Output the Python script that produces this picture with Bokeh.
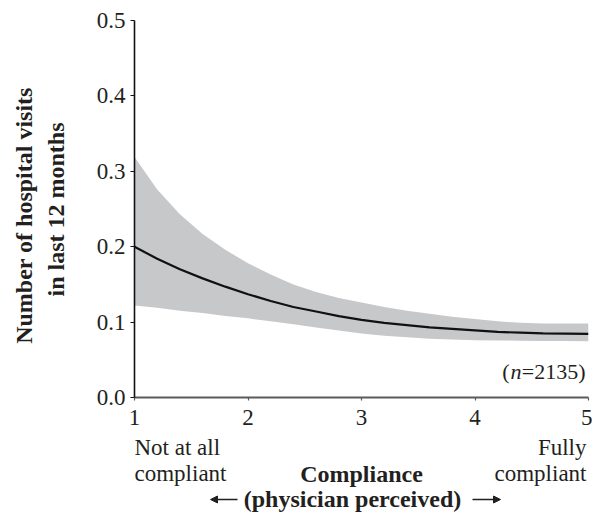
import math
from bokeh.plotting import figure
from bokeh.layouts import row, column
from bokeh.models import Range1d, FixedTicker, PrintfTickFormatter, Label, Arrow, NormalHead
from bokeh.embed import file_html
from bokeh.resources import INLINE

# ---- data ----
compliance = [1.0, 1.2, 1.4, 1.6, 1.8, 2.0, 2.2, 2.4, 2.6, 2.8, 3.0,
              3.2, 3.4, 3.6, 3.8, 4.0, 4.2, 4.4, 4.6, 4.8, 5.0]
visits_mid = [0.200, 0.184, 0.170, 0.158, 0.147, 0.137, 0.128, 0.120, 0.114, 0.108, 0.103,
              0.099, 0.096, 0.093, 0.091, 0.089, 0.087, 0.086, 0.085, 0.0848, 0.0845]
visits_upper = [0.319, 0.276, 0.243, 0.217, 0.196, 0.178, 0.163, 0.150, 0.140, 0.132, 0.126,
                0.120, 0.115, 0.111, 0.107, 0.104, 0.101, 0.099, 0.098, 0.098, 0.098]
visits_lower = [0.122, 0.119, 0.115, 0.112, 0.108, 0.105, 0.101, 0.097, 0.093, 0.089, 0.085,
                0.082, 0.080, 0.078, 0.077, 0.076, 0.0757, 0.0753, 0.075, 0.0748, 0.0747]
x_ticks = [1, 2, 3, 4, 5]
y_ticks = [0.0, 0.1, 0.2, 0.3, 0.4, 0.5]
n_text = "2135"
y_title = ["Number of hospital visits", "in last 12 months"]
x_title = "Compliance"
x_subtitle = "(physician perceived)"
x_low = ["Not at all", "compliant"]
x_high = ["Fully", "compliant"]

FONT = "Liberation Serif"
FS = "23px"
FSB = "24px"
INK = "#231f20"
BASE_FIX = 7   # Label baseline correction (px)

# canvas layout
W, H = 592, 519
LEFT_W = 70           # left strip for the y title
MAIN_H = 432          # main plot height
BOT_H = H - MAIN_H    # bottom strip for the x titles
FR_L, FR_R, FR_T, FR_B = 134, 588, 20, 397   # frame box in canvas pixels


def text_fig(width, height, x0, x1, y_bottom, y_top, bl=0, br=0):
    f = figure(width=width, height=height, output_backend="svg", toolbar_location=None,
               x_axis_type=None, y_axis_type=None,
               x_range=Range1d(x0, x1), y_range=Range1d(y_bottom, y_top),
               min_border=0, min_border_left=bl, min_border_right=br,
               min_border_top=0, min_border_bottom=0)
    f.outline_line_color = None
    f.background_fill_color = "white"
    f.border_fill_color = "white"
    return f


def lab(fig, text, x, y, align="left", bold=False, angle=0.0, size=FS):
    fig.add_layout(Label(x=x, y=y, text=text, text_font=FONT, text_font_size=size,
                         text_font_style="bold" if bold else "normal",
                         text_align=align, text_baseline="alphabetic",
                         text_color=INK, angle=angle))


# ---- main plot ----
p = figure(width=W - LEFT_W, height=MAIN_H, output_backend="svg", toolbar_location=None,
           x_range=Range1d(1, 5), y_range=Range1d(0, 0.5),
           min_border_left=FR_L - LEFT_W, min_border_right=W - FR_R, min_border_top=FR_T,
           min_border_bottom=MAIN_H - FR_B)
p.outline_line_color = None
p.xgrid.visible = False
p.ygrid.visible = False
p.background_fill_color = "white"
p.border_fill_color = "white"

p.varea(x=compliance, y1=visits_lower, y2=visits_upper, fill_color="#c7c8ca")
p.line(x=compliance, y=visits_mid, line_color="#111111", line_width=2.2)

for ax in (p.xaxis[0], p.yaxis[0]):
    ax.major_label_text_font = FONT
    ax.major_label_text_font_size = FS
    ax.major_label_text_color = INK
    ax.minor_tick_line_color = None
    ax.major_tick_in = 0
    ax.major_tick_out = 4
    ax.major_tick_line_width = 1.2

p.yaxis[0].ticker = FixedTicker(ticks=y_ticks)
p.yaxis[0].formatter = PrintfTickFormatter(format="%.1f")
p.yaxis[0].axis_line_color = "#111111"
p.yaxis[0].axis_line_width = 1.6
p.yaxis[0].major_tick_line_color = "#111111"
p.yaxis[0].major_label_standoff = 5
p.xaxis[0].ticker = FixedTicker(ticks=x_ticks)
p.xaxis[0].axis_line_color = "#5a5a5a"
p.xaxis[0].axis_line_width = 2
p.xaxis[0].major_tick_line_color = "#5a5a5a"
p.xaxis[0].major_tick_out = 3
p.xaxis[0].major_label_standoff = 9

# sample size note (inside the frame, anchored at the lower-right corner)
for txt, off, style in [("=" + n_text + ")", 0, "normal"), ("n", 64, "italic"), ("(", 76, "normal")]:
    p.add_layout(Label(x=5, y=0, x_offset=-3 - off, y_offset=19 + BASE_FIX, text=txt,
                       text_font=FONT, text_font_size="22px", text_font_style=style,
                       text_align="right", text_baseline="alphabetic", text_color=INK))

# ---- left strip: rotated y title (data units == canvas pixels) ----
left = text_fig(LEFT_W, H, 0, LEFT_W, H, 0)
lab(left, y_title[0], 33 - BASE_FIX - 3, 215, align="center", bold=True, angle=math.pi / 2, size=FSB)
lab(left, y_title[1], 65 - BASE_FIX - 3, 209, align="center", bold=True, angle=math.pi / 2, size=FSB)

# ---- bottom strip: x annotations (frame aligned with the main frame; data units == canvas px) ----
bot = text_fig(W - LEFT_W, BOT_H, FR_L, FR_R, H, MAIN_H, bl=FR_L - LEFT_W, br=W - FR_R)
lab(bot, x_low[0], 134, 454 - BASE_FIX)
lab(bot, x_low[1], 134, 480 - BASE_FIX)
lab(bot, x_high[0], 586, 454 - BASE_FIX, align="right")
lab(bot, x_high[1], 586, 480 - BASE_FIX, align="right")
lab(bot, x_title, 361, 480 - BASE_FIX, align="center", bold=True, size=FSB)
lab(bot, x_subtitle, 352, 505 - BASE_FIX, align="center", bold=True, size=FSB)
for xs, xe in [(237, 210), (472, 500)]:
    bot.add_layout(Arrow(x_start=xs, y_start=499, x_end=xe, y_end=499,
                         line_color=INK, line_width=1.4,
                         end=NormalHead(size=7, fill_color=INK, line_color=INK)))

layout = row(left, column(p, bot))
open("out.html", "w").write(file_html(layout, INLINE))
